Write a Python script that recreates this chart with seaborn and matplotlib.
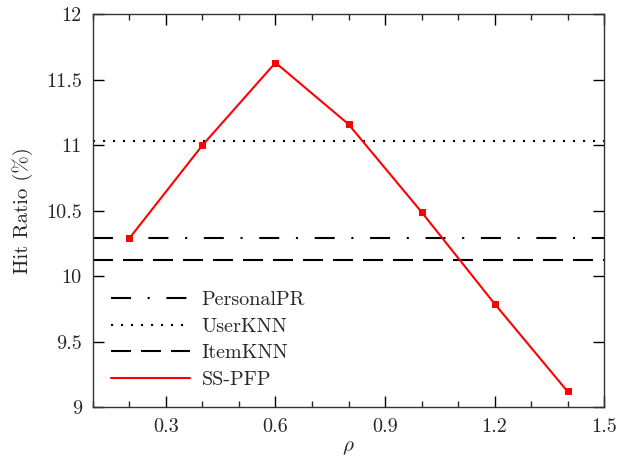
import matplotlib
matplotlib.use("Agg")
import matplotlib.pyplot as plt
import seaborn as sns
import pandas as pd
from matplotlib.ticker import MultipleLocator

rho = [0.2, 0.4, 0.6, 0.8, 1.0, 1.2, 1.4]
ss_pfp = [10.29, 11.00, 11.63, 11.16, 10.49, 9.79, 9.12]
baseline_names = ["PersonalPR", "UserKNN", "ItemKNN"]
baseline_values = [10.29, 11.03, 10.12]
xticks = [0.3, 0.6, 0.9, 1.2, 1.5]
yticks = [9, 9.5, 10, 10.5, 11, 11.5, 12]

sns.set_style("ticks")
plt.rcParams["font.family"] = ["cmr10", "DejaVu Serif"]
plt.rcParams["mathtext.fontset"] = "cm"
plt.rcParams["axes.formatter.use_mathtext"] = True
plt.rcParams["axes.unicode_minus"] = False

fig = plt.figure(figsize=(6.24, 4.58), dpi=100)
ax = fig.add_axes([0.149, 0.111, 0.819, 0.858])

styles = [(0, (9.6, 8, 1, 8)), (0, (1, 3.8)), (0, (9.6, 4.8))]
for name, val, ls in zip(baseline_names, baseline_values, styles):
    ax.axhline(val, color="black", linestyle=ls, linewidth=1.5, label=name)

df = pd.DataFrame({"rho": rho, "hr": ss_pfp})
sns.lineplot(data=df, x="rho", y="hr", ax=ax, color="red", marker="s",
             markersize=5, markeredgecolor="red", linewidth=1.5, label="SS-PFP")

ax.set_xlim(0.1, 1.5)
ax.set_ylim(9, 12)
ax.set_xticks(xticks)
ax.set_xticklabels([str(t) for t in xticks])
ax.set_yticks(yticks)
ax.set_yticklabels(["9", "9.5", "10", "10.5", "11", "11.5", "12"])
ax.xaxis.set_minor_locator(MultipleLocator(0.1))
ax.tick_params(axis="both", which="major", direction="in", top=True, right=True,
               length=8, width=1, labelsize=14.5, color="black", pad=8)
ax.tick_params(axis="x", which="minor", direction="in", top=True, length=4, width=1)
for s in ax.spines.values():
    s.set_linewidth(1)
    s.set_color("#333333")
ax.set_xlabel(r"$\rho$", fontsize=15, labelpad=2)
ax.set_ylabel("Hit Ratio (%)", fontsize=15, labelpad=9)

leg = ax.legend(loc="lower left", frameon=False, fontsize=14.5, handlelength=3.9,
                handletextpad=0.6, labelspacing=0.42)
for ln in leg.get_lines():
    ln.set_marker("")

fig.savefig("out.png", dpi=100)
